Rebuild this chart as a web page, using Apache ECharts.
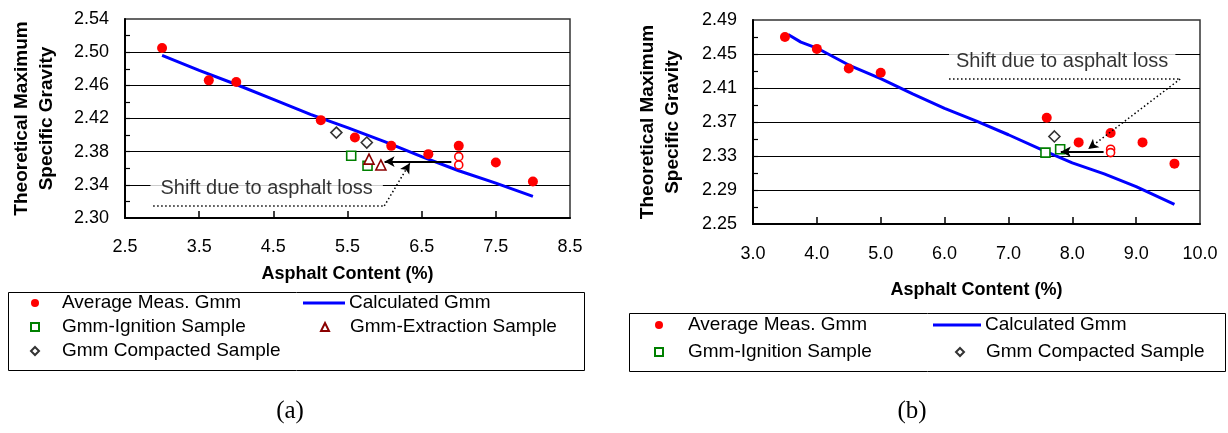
<!DOCTYPE html>
<html><head><meta charset="utf-8">
<script src="https://cdn.jsdelivr.net/npm/echarts@6/dist/echarts.min.js"></script>
<style>html,body{margin:0;padding:0;background:#fff}#c{width:1228px;height:433px}</style>
</head><body><div id="c"></div>
<script>
// ---------- Chart (a) data ----------
const aAvgX = [3.0, 3.63, 4.0, 5.14, 5.6, 6.09, 6.59, 7.0, 7.5, 8.0];
const aAvgY = [2.505, 2.466, 2.464, 2.418, 2.397, 2.387, 2.377, 2.387, 2.367, 2.344];
const aIndivX = [7.0, 7.0];
const aIndivY = [2.374, 2.364];
const aCalcX = [3.0, 3.5, 4.0, 4.5, 5.0, 5.5, 6.0, 6.5, 7.0, 7.5, 8.0];
const aCalcY = [2.496, 2.478, 2.461, 2.443, 2.425, 2.409, 2.392, 2.374, 2.357, 2.342, 2.326];
const aIgnX = [5.55, 5.77];
const aIgnY = [2.375, 2.363];
const aExtX = [5.79, 5.95];
const aExtY = [2.371, 2.364];
const aCompX = [5.35, 5.76];
const aCompY = [2.403, 2.391];
const aXLabels = [2.5, 3.5, 4.5, 5.5, 6.5, 7.5, 8.5];
const aXTicks = [3.5, 4.5, 5.5, 6.5, 7.5];
const aYLabels = [2.30, 2.34, 2.38, 2.42, 2.46, 2.50, 2.54];
const aYGrid = [2.34, 2.38, 2.42, 2.46, 2.50];
const aYTicks = [2.32, 2.34, 2.36, 2.38, 2.40, 2.42, 2.44, 2.46, 2.48, 2.50, 2.52];
// annotation (a)
const aNotePos = [4.41, 2.336];
const aArrowFrom = [6.90, 2.368];
const aArrowTo = [6.0, 2.368];
const aDotStart = [2.88, 2.3145];
const aDotCorner = [5.996, 2.3145];
const aDotEnd = [6.34, 2.366];

// ---------- Chart (b) data ----------
const bAvgX = [3.5, 4.0, 4.5, 5.0, 7.6, 8.1, 8.6, 9.1, 9.6];
const bAvgY = [2.470, 2.456, 2.433, 2.428, 2.375, 2.346, 2.357, 2.346, 2.321];
const bIndivX = [8.6, 8.6];
const bIndivY = [2.338, 2.334];
const bCalcX = [3.55, 3.75, 4.0, 4.5, 5.0, 5.5, 6.0, 6.5, 7.0, 7.5, 8.0, 8.5, 9.0, 9.6];
const bCalcY = [2.473, 2.464, 2.457, 2.437, 2.421, 2.403, 2.386, 2.371, 2.355, 2.338, 2.322, 2.309, 2.294, 2.273];
const bIgnX = [7.58, 7.81];
const bIgnY = [2.334, 2.338];
const bCompX = [7.72];
const bCompY = [2.353];
const bXLabels = [3, 4, 5, 6, 7, 8, 9, 10];
const bXTicks = [4, 5, 6, 7, 8, 9];
const bYLabels = [2.25, 2.29, 2.33, 2.37, 2.41, 2.45, 2.49];
const bYGrid = [2.29, 2.33, 2.37, 2.41, 2.45];
const bYTicks = [2.27, 2.29, 2.31, 2.33, 2.35, 2.37, 2.39, 2.41, 2.43, 2.45, 2.47];
// annotation (b)
const bNotePos = [7.842, 2.441];
const bArrowFrom = [8.49, 2.335];
const bArrowTo = [7.82, 2.335];
const bDotStart = [6.07, 2.4206];
const bDotCorner = [9.69, 2.4206];
const bDotEnd = [8.25, 2.3383];

const NOTE = 'Shift due to asphalt loss';
const legendA1 = ['Average Meas. Gmm', 'Gmm-Ignition Sample', 'Gmm Compacted Sample'];
const legendA2 = ['Calculated Gmm'];
const legendA3 = ['Gmm-Extraction Sample'];
const legendB1 = ['Average Meas. Gmm', 'Gmm-Ignition Sample'];
const legendB2 = ['Calculated Gmm'];
const legendB3 = ['Gmm Compacted Sample'];

// ---------- helpers ----------
const FONT = '"Liberation Sans", Arial, sans-serif';
const zip = (xs, ys) => xs.map((x, i) => [x, ys[i]]);

function xAxisCfg(gi, min, max, labels, ticks, gap, margin) {
  return {
    gridIndex: gi, type: 'value', min: min, max: max,
    axisLine: { show: true, onZero: false, lineStyle: { color: '#000', width: 2 } },
    axisTick: { show: true, inside: true, length: 7, customValues: ticks, lineStyle: { color: '#000', width: 1.5 } },
    axisLabel: { customValues: labels, formatter: v => Number(v).toFixed(1), margin: margin,
                 color: '#000', fontSize: 18, fontFamily: FONT },
    splitLine: { show: false },
    name: 'Asphalt Content (%)', nameLocation: 'middle', nameGap: gap,
    nameTextStyle: { fontWeight: 'bold', fontSize: 18, color: '#000', fontFamily: FONT }
  };
}
function yAxisMain(gi, min, max, labels, ticks, gap) {
  return {
    gridIndex: gi, type: 'value', min: min, max: max, position: 'left',
    axisLine: { show: true, onZero: false, lineStyle: { color: '#000', width: 2 } },
    axisTick: { show: true, inside: true, length: 5, customValues: ticks, lineStyle: { color: '#000', width: 1.2 } },
    axisLabel: { customValues: labels, formatter: v => Number(v).toFixed(2), margin: 16,
                 color: '#000', fontSize: 18, fontFamily: FONT },
    splitLine: { show: false },
    name: 'Theoretical Maximum\nSpecific Gravity', nameLocation: 'middle', nameGap: gap, nameRotate: 90,
    nameTextStyle: { fontWeight: 'bold', fontSize: 19, lineHeight: 25, color: '#000', fontFamily: FONT, align: 'center' }
  };
}
function yAxisGrid(gi, min, max, grid) {
  return {
    gridIndex: gi, type: 'value', min: min, max: max, position: 'left', offset: 0,
    axisLine: { show: false }, axisLabel: { show: false },
    axisTick: { show: false, customValues: grid },
    splitLine: { show: true, lineStyle: { color: '#000', width: 1 } }
  };
}
function scatter(name, xi, yi, data, symbol, size, color, hollow) {
  return {
    type: 'scatter', name: name, xAxisIndex: xi, yAxisIndex: yi, data: data,
    symbol: symbol, symbolSize: size, z: 4,
    itemStyle: hollow ? { color: '#fff', borderColor: color, borderWidth: 1.6, opacity: 1 }
                      : { color: color, opacity: 1 }
  };
}
function lineSeries(name, xi, yi, data) {
  return {
    type: 'line', name: name, xAxisIndex: xi, yAxisIndex: yi, data: data,
    symbol: 'none', showSymbol: false, z: 3,
    lineStyle: { color: '#0000ff', width: 3 }, itemStyle: { color: '#0000ff' }
  };
}
function noteSeries(xi, yi, pos, arrowFrom, arrowTo, dotStart, dotCorner, dotEnd, padding) {
  const dotted = { color: '#000', width: 1.5, type: [1.5, 2.5] };
  return {
    type: 'scatter', name: 'note' + xi, xAxisIndex: xi, yAxisIndex: yi,
    data: [pos], symbolSize: 0, silent: true, z: 5,
    label: { show: true, position: 'inside', formatter: NOTE, backgroundColor: '#fff',
             padding: padding, fontSize: 20, color: '#000', fontFamily: FONT },
    markLine: {
      silent: true, animation: false, symbolSize: [8, 10], label: { show: false },
      data: [
        [{ coord: arrowFrom, symbol: 'none', lineStyle: { color: '#000', width: 2, type: 'solid' } },
         { coord: arrowTo, symbol: 'arrow' }],
        [{ coord: dotStart, symbol: 'none', lineStyle: dotted }, { coord: dotCorner, symbol: 'none' }],
        [{ coord: dotCorner, symbol: 'none', lineStyle: dotted }, { coord: dotEnd, symbol: 'arrow' }]
      ]
    }
  };
}
// legend for markers: small icon, text pushed right by padding
function legendMarks(left, top, gap, textPad, names) {
  return {
    left: left, top: top, orient: 'vertical', padding: 0, itemWidth: 8, itemHeight: 8,
    itemGap: gap, selectedMode: false, symbolKeepAspect: true, data: names,
    textStyle: { fontSize: 19, lineHeight: 20, color: '#000', fontFamily: FONT, padding: [0, 0, 0, textPad] }
  };
}
// legend for the line: a flat blue bar
function legendLine(left, top, width, names) {
  return {
    left: left, top: top, orient: 'vertical', padding: 0, itemWidth: width, itemHeight: 3,
    selectedMode: false, data: names.map(n => ({ name: n, icon: 'rect' })),
    textStyle: { fontSize: 19, lineHeight: 20, color: '#000', fontFamily: FONT, padding: [0, 0, 0, -1] }
  };
}

const option = {
  animation: false,
  backgroundColor: '#fff',
  grid: [
    { left: 125, top: 19, width: 445, height: 199, show: true, borderColor: '#333', borderWidth: 1.5 },
    { left: 753, top: 20, width: 447, height: 204, show: true, borderColor: '#333', borderWidth: 1.5 }
  ],
  xAxis: [
    xAxisCfg(0, 2.5, 8.5, aXLabels, aXTicks, 47, 20),
    xAxisCfg(1, 3, 10, bXLabels, bXTicks, 57, 21)
  ],
  yAxis: [
    yAxisMain(0, 2.30, 2.54, aYLabels, aYTicks, 66),
    yAxisGrid(0, 2.30, 2.54, aYGrid),
    yAxisMain(1, 2.25, 2.49, bYLabels, bYTicks, 68),
    yAxisGrid(1, 2.25, 2.49, bYGrid)
  ],
  legend: [
    legendMarks(30, 293, 4, 18, legendA1),
    legendLine(303, 293, 42, legendA2),
    legendMarks(320, 317, 4, 16, legendA3),
    legendMarks(654, 315, 7, 20, legendB1),
    legendLine(933, 315, 48, legendB2),
    legendMarks(955, 342, 7, 17, legendB3)
  ],
  series: [
    lineSeries('Calculated Gmm', 0, 0, zip(aCalcX, aCalcY)),
    scatter('Average Meas. Gmm', 0, 0, zip(aAvgX, aAvgY), 'circle', 10, '#ff0000', false),
    scatter('Individual Meas. Gmm', 0, 0, zip(aIndivX, aIndivY), 'circle', 8, '#ff0000', true),
    scatter('Gmm-Ignition Sample', 0, 0, zip(aIgnX, aIgnY), 'rect', 9, '#008000', true),
    scatter('Gmm-Extraction Sample', 0, 0, zip(aExtX, aExtY), 'triangle', 10, '#8b0000', true),
    scatter('Gmm Compacted Sample', 0, 0, zip(aCompX, aCompY), 'diamond', 11, '#333333', true),
    noteSeries(0, 0, aNotePos, aArrowFrom, aArrowTo, aDotStart, aDotCorner, aDotEnd, [2, 10]),

    lineSeries('Calculated Gmm', 1, 2, zip(bCalcX, bCalcY)),
    scatter('Average Meas. Gmm', 1, 2, zip(bAvgX, bAvgY), 'circle', 10, '#ff0000', false),
    scatter('Individual Meas. Gmm', 1, 2, zip(bIndivX, bIndivY), 'circle', 8, '#ff0000', true),
    scatter('Gmm-Ignition Sample', 1, 2, zip(bIgnX, bIgnY), 'rect', 9, '#008000', true),
    scatter('Gmm Compacted Sample', 1, 2, zip(bCompX, bCompY), 'diamond', 11, '#333333', true),
    noteSeries(1, 2, bNotePos, bArrowFrom, bArrowTo, bDotStart, bDotCorner, bDotEnd, [2, 7])
  ],
  graphic: [
    { type: 'rect', left: 6, top: 290, shape: { width: 576, height: 78 }, silent: true,
      style: { fill: 'none', stroke: '#000', lineWidth: 1 } },
    { type: 'rect', left: 627, top: 311, shape: { width: 596, height: 58 }, silent: true,
      style: { fill: 'none', stroke: '#000', lineWidth: 1 } },
    { type: 'text', x: 290, y: 411, silent: true,
      style: { text: '(a)', font: '25px "Liberation Serif", "Times New Roman", serif', fill: '#000',
               align: 'center', verticalAlign: 'middle' } },
    { type: 'text', x: 912, y: 411, silent: true,
      style: { text: '(b)', font: '25px "Liberation Serif", "Times New Roman", serif', fill: '#000',
               align: 'center', verticalAlign: 'middle' } }
  ]
};

const chart = echarts.init(document.getElementById('c'), null, { renderer: 'canvas' });
chart.setOption(option);
</script></body></html>
